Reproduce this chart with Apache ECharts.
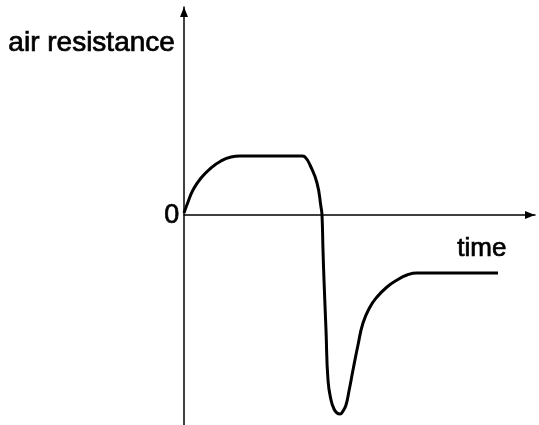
<!DOCTYPE html>
<html>
<head>
<meta charset="utf-8">
<script src="https://cdn.jsdelivr.net/npm/echarts@6/dist/echarts.min.js"></script>
<style>html,body{margin:0;padding:0;background:#fff}#c{width:539px;height:425px}</style>
</head>
<body>
<div id="c"></div>
<script>
const timeVals = [0, 4, 9, 17, 27, 37, 47, 56, 118, 121, 126, 133, 137, 138, 139, 140, 142, 144, 147, 150, 153, 156, 159, 162, 165, 169, 174, 179, 186, 193, 203, 213, 223, 233, 314];
const resistanceVals = [2, 13, 25, 37, 47, 54, 58, 59, 59, 58, 50, 32, 8, 0, -35, -65, -115, -165, -185, -194, -198, -199, -196, -190, -176, -155, -130, -108, -92, -82, -72, -65, -60, -58, -58];
const yAxisTitle = 'air resistance';
const xAxisTitle = 'time';
const originLabel = '0';

const chart = echarts.init(document.getElementById('c'));
const fontFam = 'Liberation Sans, Arial, sans-serif';
const txt = { fill: '#000', stroke: '#000', lineWidth: 0.7 };
chart.setOption({
  animation: false,
  backgroundColor: '#fff',
  grid: { left: 184, right: 4, top: 7, bottom: 0 },
  xAxis: {
    type: 'value', min: 0, max: 351,
    axisLine: { onZero: true, lineStyle: { color: '#000', width: 1.5 }, symbol: ['none', 'triangle'], symbolSize: [8, 10], symbolOffset: [0, -5] },
    axisTick: { show: false }, axisLabel: { show: false }, splitLine: { show: false }
  },
  yAxis: {
    type: 'value', min: -210, max: 208,
    axisLine: { onZero: true, lineStyle: { color: '#000', width: 1.5 }, symbol: ['none', 'triangle'], symbolSize: [8, 10], symbolOffset: [0, -5] },
    axisTick: { show: false }, axisLabel: { show: false }, splitLine: { show: false }
  },
  graphic: [
    { type: 'text', left: 8, top: 29, style: Object.assign({ text: yAxisTitle, font: '28px ' + fontFam }, txt) },
    { type: 'text', left: 457, top: 235, style: Object.assign({ text: xAxisTitle, font: '26px ' + fontFam }, txt) },
    { type: 'text', left: 164, top: 202, style: Object.assign({ text: originLabel, font: '27px ' + fontFam }, txt) }
  ],
  series: [{
    type: 'line',
    data: timeVals.map((t, i) => [t, resistanceVals[i]]),
    smooth: 0.5,
    showSymbol: false,
    lineStyle: { color: '#000', width: 3 }
  }]
});
</script>
</body>
</html>
